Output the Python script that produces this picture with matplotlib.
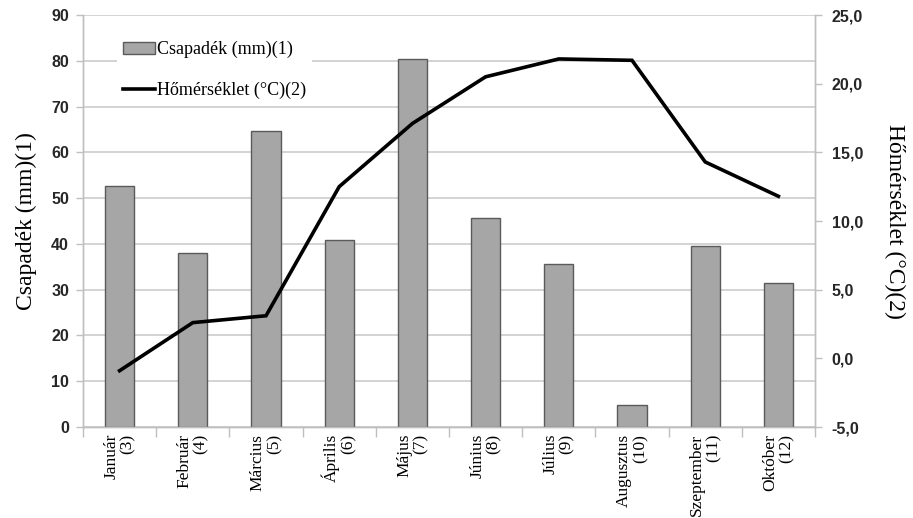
import numpy as np
import matplotlib
matplotlib.use("Agg")
from matplotlib import pyplot as plt
from matplotlib.ticker import FixedLocator, FuncFormatter

# monthly data, March-December
months = ["Január", "Február", "Március", "Április", "Május",
          "Június", "Július", "Augusztus", "Szeptember", "Október"]
month_nums = ["(3)", "(4)", "(5)", "(6)", "(7)", "(8)", "(9)", "(10)", "(11)", "(12)"]
precip = [52.7, 38.0, 64.7, 40.9, 80.3, 45.6, 35.6, 4.8, 39.6, 31.4]
temp = [-0.9, 2.6, 3.1, 12.5, 17.1, 20.5, 21.8, 21.7, 14.3, 11.8]

serif = "Liberation Serif"
sans = "Liberation Sans"

fig = plt.figure(figsize=[9.13, 5.18], dpi=100)
ax = fig.add_axes([83/913, 91/518, 732/913, 412/518])
ax2 = ax.twinx()

x = np.arange(len(months))
bars = ax.bar(x, precip, width=0.4, color="#a6a6a6", edgecolor="#5a5a5a",
              linewidth=1.0, label="Csapadék (mm)(1)", zorder=3)
line, = ax2.plot(x, temp, color="black", linewidth=2.6,
                 label="Hőmérséklet (°C)(2)", solid_joinstyle="miter")

# left axis: precipitation
ax.set_xlim(-0.5, len(months) - 0.5)
ax.set_ylim(0, 90)
ax.set_yticks(np.arange(0, 91, 10))
ax.grid(axis="y", color="#c8c8c8", linewidth=1.1, zorder=0)
ax.set_axisbelow(True)
for lab in ax.get_yticklabels():
    lab.set_fontfamily(sans)
    lab.set_fontweight("bold")
    lab.set_fontsize(11.5)
    lab.set_color("#262626")
ax.tick_params(axis="y", length=5, width=1, color="#bfbfbf", pad=5)
ax.set_ylabel("Csapadék (mm)(1)", fontfamily=serif, fontsize=17, labelpad=10)

# right axis: temperature
ax2.set_ylim(-5, 25)
ax2.set_yticks(np.arange(-5, 26, 5))
ax2.yaxis.set_major_formatter(FuncFormatter(lambda v, p: f"{v:.1f}".replace(".", ",")))
for lab in ax2.get_yticklabels():
    lab.set_fontfamily(sans)
    lab.set_fontweight("bold")
    lab.set_fontsize(11.5)
    lab.set_color("#262626")
ax2.tick_params(axis="y", length=5, width=1, color="#bfbfbf", pad=7)
ax2.set_ylabel("Hőmérséklet (°C)(2)", fontfamily=serif, fontsize=17,
               rotation=270, labelpad=30)

# category labels with separators between them
ax.set_xticks(x)
ax.set_xticklabels([f"{m}\n{n}" for m, n in zip(months, month_nums)],
                   rotation=90, fontfamily=serif, fontsize=12.5,
                   multialignment="right", linespacing=1.05)
ax.xaxis.set_minor_locator(FixedLocator(np.arange(-0.5, len(months), 1)))
ax.tick_params(axis="x", which="major", length=0, pad=5)
ax.tick_params(axis="x", which="minor", length=7, width=1, color="#bfbfbf")

for a in (ax, ax2):
    a.spines["top"].set_visible(False)
    for s in ("left", "right", "bottom"):
        a.spines[s].set_color("#bfbfbf")
        a.spines[s].set_linewidth(1.0)

leg = ax.legend([bars, line], [bars.get_label(), line.get_label()],
                loc="upper left", bbox_to_anchor=(0.047, 0.95),
                prop={"family": serif, "size": 13}, frameon=True,
                fancybox=False, edgecolor="none", facecolor="white", framealpha=1,
                handlelength=1.8, handletextpad=0.1, labelspacing=1.3,
                borderpad=0.3, borderaxespad=0)
leg.set_zorder(5)

fig.savefig("out.png", dpi=100)
